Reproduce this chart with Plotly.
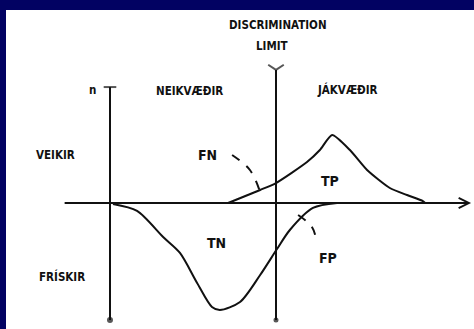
import plotly.graph_objects as go

# Sick population (above the axis) and healthy population (below, drawn negative)
sick_x = [35.8, 45.5, 50.3, 59.7, 63.6, 67.3, 72.7, 77.9, 84.8, 90.0, 94.8, 95.5]
sick_n = [0, 8.7, 13.3, 27.3, 35.3, 45.3, 35.3, 22.0, 10.0, 5.3, 1.3, 0]

healthy_x = [0.9, 8.2, 16.1, 21.2, 26.4, 30.9, 33.3, 39.4, 45.5, 50.6, 54.5, 61.5, 68.8]
healthy_n = [-0.7, -5.3, -22.7, -33.3, -53.3, -69.3, -71.3, -66.0, -48.0, -30.7, -18.0, -3.3, 0]

# Dashed pointers for FN and FP
fn_x = [37.0, 42.4, 45.5]
fn_n = [32.0, 22.0, 7.3]
fp_x = [57.0, 61.2, 62.7]
fp_n = [-8.0, -16.0, -26.7]

limit_x = 50.3
axis_x_span = [-14.2, 109.4]
axis_n_span = [-78.0, 77.3]
limit_n_span = [-78.0, 88.7]

labels = ["DISCRIMINATION", "LIMIT", "n", "NEIKVÆÐIR", "JÁKVÆÐIR", "VEIKIR", "FRÍSKIR",
          "FN", "TP", "TN", "FP"]
label_x = [50.9, 49.1, -5.2, 24.2, 72.1, -16.4, -14.5, 29.4, 66.7, 32.4, 66.1]
label_n = [118.7, 104.7, 75.3, 74.7, 76.0, 32.0, -49.3, 32.0, 14.7, -26.7, -36.7]

ink = "#111111"
hand = "DejaVu Sans Condensed, sans-serif"

fig = go.Figure()

# population curves
fig.add_trace(go.Scatter(x=sick_x, y=sick_n, mode="lines",
                         line=dict(color=ink, width=2, shape="spline", smoothing=0.6)))
fig.add_trace(go.Scatter(x=healthy_x, y=healthy_n, mode="lines",
                         line=dict(color=ink, width=2, shape="spline", smoothing=0.8)))

# pointers
for px_, pn_ in [(fn_x, fn_n), (fp_x, fp_n)]:
    fig.add_trace(go.Scatter(x=px_, y=pn_, mode="lines",
                             line=dict(color=ink, width=2, dash="dash", shape="spline")))

# n axis with a cap at the top
fig.add_trace(go.Scatter(x=[0, 0], y=axis_n_span, mode="lines+markers",
                         line=dict(color=ink, width=2),
                         marker=dict(symbol=["circle", "line-ew"], size=[4, 9], color=ink,
                                     line=dict(color=ink, width=2))))

# discrimination limit with the fork on top
fig.add_trace(go.Scatter(x=[limit_x, limit_x], y=limit_n_span, mode="lines+markers",
                         line=dict(color=ink, width=2),
                         marker=dict(symbol=["circle", "y-down"], size=[3, 13], color=ink,
                                     line=dict(color=ink, width=2))))

# horizontal axis with arrow
fig.add_annotation(x=axis_x_span[1], y=0, ax=axis_x_span[0], ay=0,
                   xref="x", yref="y", axref="x", ayref="y",
                   showarrow=True, arrowhead=5, arrowsize=1, arrowwidth=2,
                   arrowcolor=ink, text="")

for t, x, y in zip(labels, label_x, label_n):
    # area labels (FN, TP, ...) are written larger than the headings
    fs = 14 if len(t) == 2 else 11.5
    fig.add_annotation(x=x, y=y, text="<b>" + t + "</b>", showarrow=False,
                       font=dict(family=hand, size=fs, color=ink))

# white sheet on the navy slide
fig.add_shape(type="rect", xref="paper", yref="paper", x0=6 / 474, x1=1, y0=0, y1=319 / 329,
              fillcolor="white", line=dict(width=0), layer="below")

fig.update_xaxes(range=[-33.33, 110.30], visible=False, fixedrange=True)
fig.update_yaxes(range=[-84.0, 135.33], visible=False, fixedrange=True)
fig.update_layout(width=474, height=329, margin=dict(l=0, r=0, t=0, b=0),
                  paper_bgcolor="#020262", plot_bgcolor="rgba(0,0,0,0)",
                  showlegend=False)

fig.write_html("out.html", config={"displayModeBar": False},
               post_script="document.body.style.margin='0';document.body.style.overflow='hidden';")
